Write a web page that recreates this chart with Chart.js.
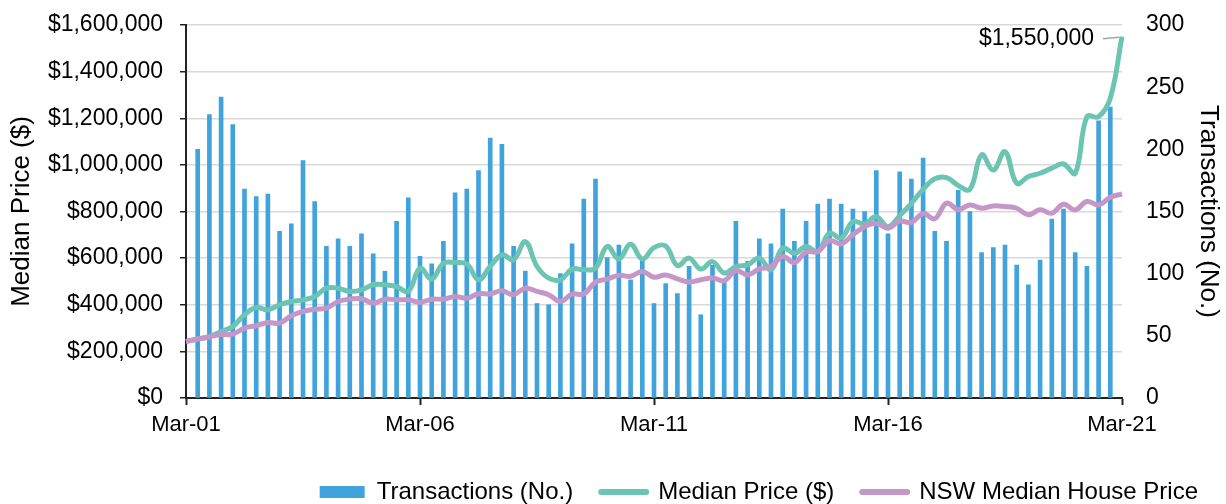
<!DOCTYPE html>
<html>
<head>
<meta charset="utf-8">
<script src="https://cdn.jsdelivr.net/npm/chart.js@4.4.1/dist/chart.umd.min.js"></script>
<style>
  body { margin: 0; background: #fff; }
</style>
</head>
<body>
<canvas id="priceChart" width="1226" height="504"></canvas>
<script>
// quarterly categories, Mar-01 .. Mar-21
const years = ["01","02","03","04","05","06","07","08","09","10","11","12","13","14","15","16","17","18","19","20","21"];
const months = ["Mar", "Jun", "Sep", "Dec"];
const quarters = [];
years.forEach(yy => months.forEach(m => quarters.push(m + "-" + yy)));
quarters.length = 81; // ends at Mar-21

const tickLabels = ["Mar-01", "Mar-06", "Mar-11", "Mar-16", "Mar-21"];

// Transactions (No.)
const transactions = [
  null, 200, 228, 242, 220, 168, 162, 164, 134, 140,
  191, 158, 122, 128, 122, 132, 116, 102, 142, 161,
  114, 108, 126, 165, 168, 183, 209, 204, 122, 102,
  76, 75, 100, 124, 160, 176, 113, 123, 95, 110,
  76, 92, 84, 106, 67, 107, 95, 142, 110, 128,
  124, 152, 126, 142, 156, 160, 156, 152, 150, 183,
  132, 182, 176, 193, 134, 126, 167, 150, 117, 121,
  123, 107, 91, 111, 144, 152, 117, 106, 223, 234,
  null
];

// Median Price ($)
const medianPrice = [
  243000, 253000, 263000, 285000, 307000, 357000, 388000, 378000, 400000, 414000,
  421000, 435000, 471000, 471000, 457000, 464000, 486000, 486000, 478000, 457000,
  557000, 510000, 578000, 581000, 575000, 507000, 564000, 614000, 593000, 671000,
  564000, 514000, 507000, 553000, 550000, 557000, 650000, 596000, 660000, 596000,
  645000, 652000, 568000, 600000, 553000, 585000, 536000, 564000, 571000, 600000,
  550000, 643000, 621000, 650000, 628000, 707000, 686000, 757000, 747000, 778000,
  735000, 782000, 835000, 895000, 940000, 945000, 912000, 895000, 1043000, 978000,
  1057000, 921000, 950000, 964000, 986000, 1004000, 964000, 1207000, 1207000, 1286000,
  1550000
];

// NSW Median House Price
const nswPrice = [
  243000, 253000, 262000, 272000, 274000, 300000, 310000, 324000, 321000, 353000,
  371000, 381000, 386000, 414000, 424000, 426000, 407000, 424000, 421000, 421000,
  410000, 424000, 424000, 435000, 428000, 447000, 447000, 460000, 443000, 471000,
  457000, 443000, 414000, 446000, 446000, 497000, 510000, 526000, 522000, 543000,
  518000, 528000, 511000, 498000, 507000, 515000, 503000, 547000, 528000, 554000,
  564000, 607000, 581000, 626000, 628000, 675000, 661000, 700000, 735000, 750000,
  728000, 759000, 753000, 791000, 769000, 836000, 808000, 828000, 814000, 824000,
  821000, 814000, 786000, 807000, 793000, 831000, 807000, 843000, 828000, 861000,
  875000
];

const FONT = "'Liberation Sans', Arial, sans-serif";
const BLUE = "#41a3dc";
const GREEN = "#6cc4b2";
const PURPLE = "#c597c9";
const AXIS = "#222";

function money(v) {
    return "$" + Number(v).toLocaleString("en-US");
}

// fixed axis widths, and no extra room above/below for the tick labels
function fixWidth(w) {
    return scale => {
        scale.width = w;
        scale.paddingTop = 0;
        scale.paddingBottom = 0;
    };
}

// callout for the latest median price
const lastPriceLabel = {
    id: "lastPriceLabel",
    afterDatasetsDraw(chart) {
        const i = medianPrice.length - 1;
        const x = chart.scales.x.getPixelForValue(i);
        const y = chart.scales.y.getPixelForValue(medianPrice[i]);
        const ctx = chart.ctx;
        ctx.save();
        ctx.strokeStyle = "#a6a6a6";
        ctx.lineWidth = 1.5;
        ctx.beginPath();
        ctx.moveTo(x - 19, y + 2);
        ctx.lineTo(x - 3, y + 0.5);
        ctx.stroke();
        ctx.fillStyle = "#000";
        ctx.font = "23px " + FONT;
        ctx.textAlign = "right";
        ctx.textBaseline = "middle";
        ctx.fillText(money(medianPrice[i]), x - 28, y + 2);
        ctx.restore();
    }
};

let priceCtx = document.getElementById("priceChart").getContext("2d");
let priceChart = new Chart(priceCtx, {
    type: "bar",
    data: {
        labels: quarters,
        datasets: [
            {
                label: "Transactions (No.)",
                data: transactions,
                yAxisID: "y1",
                backgroundColor: BLUE,
                borderWidth: 0,
                barThickness: 4,
                order: 3
            },
            {
                type: "line",
                label: "Median Price ($)",
                data: medianPrice,
                yAxisID: "y",
                borderColor: GREEN,
                backgroundColor: GREEN,
                borderWidth: 5,
                pointRadius: 0,
                tension: 0.4,
                order: 2
            },
            {
                type: "line",
                label: "NSW Median House Price",
                data: nswPrice,
                yAxisID: "y",
                borderColor: PURPLE,
                backgroundColor: PURPLE,
                borderWidth: 5,
                pointRadius: 0,
                tension: 0.4,
                order: 1
            }
        ]
    },
    options: {
        responsive: false,
        animation: false,
        devicePixelRatio: 1,
        layout: {
            padding: { top: 25, left: 0, right: 0, bottom: -10 }
        },
        scales: {
            x: {
                offset: false,
                grid: {
                    offset: false,
                    drawOnChartArea: false,
                    tickLength: 7,
                    tickColor: AXIS,
                    tickWidth: 2
                },
                border: { color: AXIS, width: 2 },
                ticks: {
                    autoSkip: false,
                    maxRotation: 0,
                    padding: 7,
                    color: "#000",
                    font: { family: FONT, size: 22 },
                    callback: function (value) {
                        const label = this.getLabelForValue(value);
                        return tickLabels.includes(label) ? label : null;
                    }
                },
                afterFit: scale => { scale.height = 54; }
            },
            y: {
                position: "left",
                min: 0,
                max: 1600000,
                grid: {
                    color: "#d9d9d9",
                    lineWidth: 1.5,
                    tickLength: 6,
                    tickColor: AXIS
                },
                border: { color: AXIS, width: 2 },
                ticks: {
                    stepSize: 200000,
                    padding: 17,
                    color: "#000",
                    font: { family: FONT, size: 23 },
                    callback: v => money(v)
                },
                title: {
                    display: true,
                    text: "Median Price ($)",
                    color: "#000",
                    font: { family: FONT, size: 26 },
                    padding: { top: 6, bottom: 0 }
                },
                afterFit: fixWidth(186)
            },
            y1: {
                position: "right",
                min: 0,
                max: 300,
                grid: { drawOnChartArea: false, drawTicks: false },
                border: { display: false },
                ticks: {
                    stepSize: 50,
                    padding: 24,
                    color: "#000",
                    font: { family: FONT, size: 23 }
                },
                title: {
                    display: true,
                    text: "Transactions (No.)",
                    color: "#000",
                    font: { family: FONT, size: 26 },
                    padding: { top: 2, bottom: 0 }
                },
                afterFit: fixWidth(104)
            }
        },
        plugins: {
            tooltip: { enabled: false },
            title: { display: false, text: "" },
            legend: {
                position: "bottom",
                align: "end",
                labels: {
                    usePointStyle: true,
                    pointStyleWidth: 45,
                    boxHeight: 12,
                    padding: 28,
                    color: "#000",
                    font: { family: FONT, size: 24 },
                    generateLabels: chart => {
                        const items = Chart.defaults.plugins.legend.labels.generateLabels(chart);
                        items.sort((a, b) => a.datasetIndex - b.datasetIndex);
                        items.forEach(item => {
                            const ds = chart.data.datasets[item.datasetIndex];
                            if (ds.type === "line") {
                                item.pointStyle = "line";
                                item.strokeStyle = ds.borderColor;
                                item.lineWidth = 6;
                                item.lineCap = "round";
                            } else {
                                item.pointStyle = "rect";
                                item.fillStyle = ds.backgroundColor;
                                item.lineWidth = 0;
                            }
                        });
                        return items;
                    }
                }
            }
        }
    },
    plugins: [lastPriceLabel]
});
</script>
</body>
</html>
